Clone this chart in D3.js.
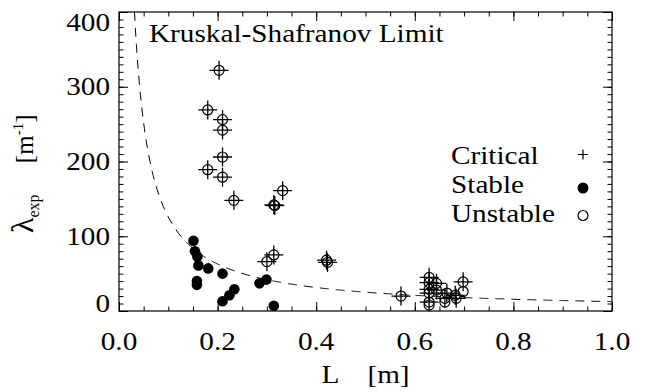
<!DOCTYPE html>
<html>
<head>
<meta charset="utf-8">
<script src="https://cdn.jsdelivr.net/npm/d3@7"></script>
<style>
  html, body { margin: 0; padding: 0; background: #fff; }
  svg { display: block; }
  text { font-family: "Liberation Serif", "Times New Roman", serif; fill: #000; }
</style>
</head>
<body>
<svg id="chart" width="646" height="392"></svg>
<script>
// ---- data ----
const xTicks = [0.0, 0.2, 0.4, 0.6, 0.8, 1.0];
const xTickLabels = ["0.0", "0.2", "0.4", "0.6", "0.8", "1.0"];
const yTicks = [0, 100, 200, 300, 400];
const yTickLabels = ["0", "100", "200", "300", "400"];

// Critical points (plus markers), L [m]
const criticalL = [0.203, 0.180, 0.210, 0.210, 0.210, 0.180, 0.210, 0.233, 0.332, 0.314, 0.316,
                   0.314, 0.300, 0.421, 0.423, 0.572,
                   0.629, 0.629, 0.629, 0.629, 0.629, 0.644, 0.644, 0.665, 0.661, 0.682, 0.684, 0.698];
const criticalLambda = [322, 269, 256, 242, 206, 189, 179, 148, 161, 142, 141,
                        75, 66, 68, 65, 20,
                        45, 38, 29, 24, 12, 37, 28, 24, 17, 21, 17, 39];

// Unstable points (open circles)
const unstableL = [0.203, 0.180, 0.210, 0.210, 0.210, 0.180, 0.210, 0.233, 0.332, 0.314, 0.316,
                   0.314, 0.300, 0.421, 0.423, 0.572,
                   0.629, 0.629, 0.629, 0.629, 0.629, 0.629, 0.644, 0.644, 0.665, 0.661, 0.661,
                   0.682, 0.684, 0.698, 0.698];
const unstableLambda = [322, 269, 256, 242, 206, 189, 179, 148, 161, 142, 141,
                        75, 66, 68, 65, 20,
                        45, 38, 29, 24, 12, 8, 37, 28, 24, 17, 12,
                        21, 17, 39, 26];

// Stable points (filled circles)
const stableL = [0.151, 0.154, 0.159, 0.161, 0.181, 0.158, 0.158, 0.210, 0.210, 0.224, 0.234, 0.285, 0.299, 0.314];
const stableLambda = [94, 80, 73, 61, 57, 40, 35, 50, 13, 21, 29, 37, 42, 7];

// Kruskal-Shafranov limit curve: lambda = 4*pi / L, sampled at these lengths
const limitL = d3.range(0.0314, 1.0001, 0.002);

const legendLabels = ["Critical", "Stable", "Unstable"];

// ---- layout ----
const svg = d3.select("#chart");
const X0 = 119, X1 = 612, Y0 = 311, Y1 = 12;
const x = d3.scaleLinear().domain([0, 1]).range([X0, X1]);
const y = d3.scaleLinear().domain([0, 400]).range([Y0, Y1]);
const FS = 25, SX = 1.17;

function stext(g, px, py, str, anchor, size) {
  return g.append("text")
    .attr("transform", `translate(${px},${py}) scale(${SX},1)`)
    .attr("text-anchor", anchor || "start")
    .attr("font-size", size || FS)
    .style("white-space", "pre")
    .text(str);
}

// dashed limit curve
const line = d3.line().x(d => x(d)).y(d => y(4 * Math.PI / d));
svg.append("path")
  .datum(limitL)
  .attr("d", line)
  .attr("fill", "none")
  .attr("stroke", "#000")
  .attr("stroke-width", 1)
  .attr("stroke-dasharray", "9,7");

// axes ticks (inward) on all four sides
const xMinor = d3.range(0, 1.0001, 0.05);
const yMinor = d3.range(0, 400.001, 10);
function addAxis(gen, tr, ticks, size) {
  const g = svg.append("g").attr("transform", tr)
    .call(gen.tickValues(ticks).tickSize(-size).tickSizeOuter(0).tickFormat(""));
  g.select(".domain").remove();
  g.selectAll("line").attr("stroke", "#000").attr("stroke-width", 1);
}
addAxis(d3.axisBottom(x), `translate(0,${Y0})`, xMinor, 4.5);
addAxis(d3.axisBottom(x), `translate(0,${Y0})`, xTicks, 9);
addAxis(d3.axisTop(x), `translate(0,${Y1})`, xMinor, 4.5);
addAxis(d3.axisTop(x), `translate(0,${Y1})`, xTicks, 9);
addAxis(d3.axisLeft(y), `translate(${X0},0)`, yMinor, 4.5);
addAxis(d3.axisLeft(y), `translate(${X0},0)`, yTicks, 9);
addAxis(d3.axisRight(y), `translate(${X1},0)`, yMinor, 4.5);
addAxis(d3.axisRight(y), `translate(${X1},0)`, yTicks, 9);

svg.append("rect")
  .attr("x", X0).attr("y", Y1).attr("width", X1 - X0).attr("height", Y0 - Y1)
  .attr("fill", "none").attr("stroke", "#000").attr("stroke-width", 1.2);

// tick labels
const lab = svg.append("g");
xTicks.forEach((t, i) => stext(lab, x(t), 350, xTickLabels[i], "middle"));
yTicks.forEach((t, i) => {
  let by = y(t) + 8.5;
  if (i === 0) by = y(t) + 0.5;
  if (i === yTicks.length - 1) by = y(t) + 19;
  stext(lab, 110, by, yTickLabels[i], "end");
});

// axis titles
stext(svg, 365.5, 383, "L    [m]", "middle");
const yt = svg.append("text")
  .attr("transform", "translate(33,233) rotate(-90)")
  .attr("text-anchor", "start")
  .attr("font-size", 25)
  .style("white-space", "pre");
yt.append("tspan").attr("font-size", 32).text("λ");
yt.append("tspan").attr("font-size", 16).attr("dy", 6).text("exp");
yt.append("tspan").attr("dy", -6).text("     [m");
yt.append("tspan").attr("font-size", 15).attr("dy", -10).text("-1");
yt.append("tspan").attr("dy", 10).text("]");

// annotation
stext(svg, 149, 42, "Kruskal-Shafranov Limit", "start");

// markers
const R = 5;
function plusPath(cx, cy, h) {
  return `M${cx - h},${cy}H${cx + h}M${cx},${cy - h}V${cy + h}`;
}
svg.append("g").selectAll("circle")
  .data(d3.zip(stableL, stableLambda)).join("circle")
  .attr("cx", d => x(d[0])).attr("cy", d => y(d[1])).attr("r", 5.3)
  .attr("fill", "#000");
svg.append("g").selectAll("circle")
  .data(d3.zip(unstableL, unstableLambda)).join("circle")
  .attr("cx", d => x(d[0])).attr("cy", d => y(d[1])).attr("r", R)
  .attr("fill", "none").attr("stroke", "#000").attr("stroke-width", 1.2);
svg.append("g").selectAll("path")
  .data(d3.zip(criticalL, criticalLambda)).join("path")
  .attr("d", d => plusPath(x(d[0]), y(d[1]), 9.5))
  .attr("fill", "none").attr("stroke", "#000").attr("stroke-width", 1.3);

// legend
const lg = svg.append("g");
const lgBase = [164, 193, 222];
legendLabels.forEach((s, i) => stext(lg, 451, lgBase[i], s, "start"));
lg.append("path").attr("d", plusPath(583, 154.5, 5)).attr("stroke", "#000").attr("stroke-width", 1.2);
lg.append("circle").attr("cx", 583).attr("cy", 188).attr("r", 5.5).attr("fill", "#000");
lg.append("circle").attr("cx", 583).attr("cy", 215.5).attr("r", 5).attr("fill", "none")
  .attr("stroke", "#000").attr("stroke-width", 1.2);
</script>
</body>
</html>
